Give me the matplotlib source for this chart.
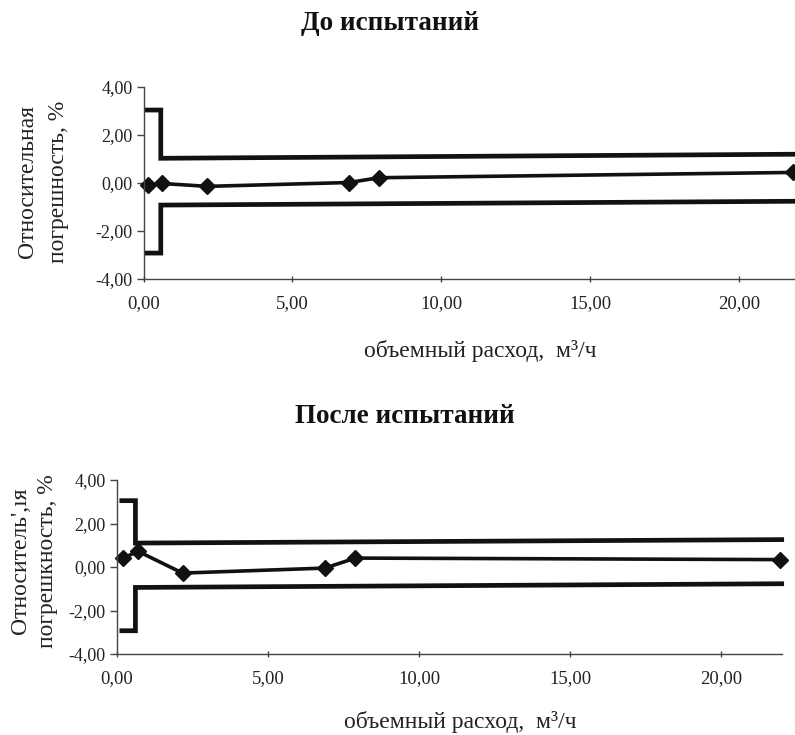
import matplotlib
matplotlib.use("Agg")
import matplotlib.pyplot as plt

plt.rcParams['font.family'] = ['Liberation Serif', 'DejaVu Serif']

# ---- data: before tests ----
before_x = [0.15, 0.62, 2.14, 6.90, 7.90, 21.8]
before_y = [-0.10, -0.02, -0.14, 0.02, 0.22, 0.44]
before_lim_x = [0.10, 0.58, 0.58, 22.0]
before_upper = [3.04, 3.04, 1.03, 1.20]
before_lower = [-2.92, -2.92, -0.92, -0.76]

# ---- data: after tests ----
after_x = [0.20, 0.70, 2.17, 6.88, 7.89, 21.95]
after_y = [0.41, 0.72, -0.28, -0.05, 0.41, 0.34]
after_lim_x = [0.16, 0.61, 0.61, 22.0]
after_upper = [3.05, 3.05, 1.10, 1.26]
after_lower = [-2.93, -2.93, -0.94, -0.77]

y_ticks = [-4, -2, 0, 2, 4]
y_ticklabels = ['-4,00', '-2,00', '0,00', '2,00', '4,00']
x_ticks = [0, 5, 10, 15, 20]
x_ticklabels = ['0,00', '5,00', '10,00', '15,00', '20,00']

titles = ['До испытаний', 'После испытаний']
ylabels = ['Относительная\nпогрешность, %', "Относитель',ıя\nпогрешкность, %"]
xlabel = 'объемный расход,  м³/ч'

W, H = 795, 735
fig = plt.figure(figsize=(W / 100, H / 100), dpi=100)


def px_ax(x0, x1, ytop, ybot):
    return fig.add_axes([x0 / W, 1 - ybot / H, (x1 - x0) / W, (ybot - ytop) / H])


ax1 = px_ax(143.5, 799.0, 87, 279)
ax2 = px_ax(117.0, 781.7, 480, 654)

panels = [
    (ax1, before_x, before_y, before_lim_x, before_upper, before_lower),
    (ax2, after_x, after_y, after_lim_x, after_upper, after_lower),
]

for ax, xs, ys, lx, up, lo in panels:
    ax.plot(lx, up, color='#111111', lw=3.4, solid_joinstyle='miter', clip_on=False)
    ax.plot(lx, lo, color='#111111', lw=3.4, solid_joinstyle='miter', clip_on=False)
    ax.plot(xs, ys, color='#111111', lw=2.6, marker='D', markersize=8.5,
            markerfacecolor='#111111', markeredgecolor='#111111', clip_on=False)
    ax.set_xlim(0, 22)
    ax.set_ylim(-4, 4)
    ax.set_yticks(y_ticks)
    ax.set_yticklabels(y_ticklabels)
    ax.set_xticks(x_ticks)
    ax.set_xticklabels(x_ticklabels)
    for s in ['top', 'right']:
        ax.spines[s].set_visible(False)
    for s in ['left', 'bottom']:
        ax.spines[s].set_color('#444444')
        ax.spines[s].set_linewidth(1.0)
    ax.tick_params(axis='y', direction='out', length=5, width=1, color='#444444',
                   labelsize=13, pad=3, labelcolor='#222222')
    ax.tick_params(axis='x', direction='inout', length=5, width=1, color='#444444',
                   labelsize=13.5, pad=9, labelcolor='#222222')

# titles
fig.text(390 / W, 1 - 24 / H, titles[0], ha='center', va='center',
         fontsize=19.5, fontweight='bold', color='#111111')
fig.text(405 / W, 1 - 416 / H, titles[1], ha='center', va='center',
         fontsize=19.5, fontweight='bold', color='#111111')

# x labels
fig.text(480 / W, 1 - 351 / H, xlabel, ha='center', va='center',
         fontsize=17, color='#222222')
fig.text(460 / W, 1 - 722 / H, xlabel, ha='center', va='center',
         fontsize=17, color='#222222')

# y labels
fig.text(43 / W, 1 - 182 / H, ylabels[0], ha='center', va='center', rotation=90,
         fontsize=17, color='#222222', linespacing=1.6, multialignment='center')
fig.text(34 / W, 1 - 561 / H, ylabels[1], ha='center', va='center', rotation=90,
         fontsize=17, color='#222222', linespacing=1.4, multialignment='center')

fig.savefig('out.png', dpi=100)
